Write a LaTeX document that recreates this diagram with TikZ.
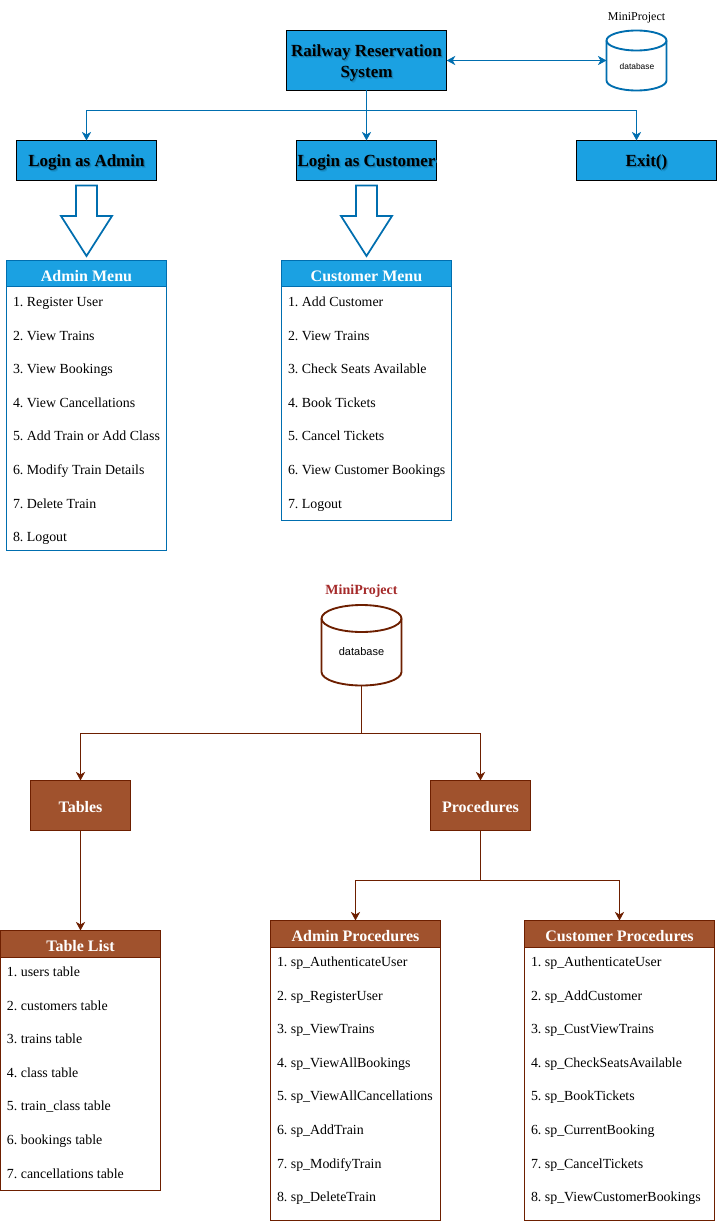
\documentclass[tikz,border=0pt]{standalone}
\usepackage{fontspec}
\setmainfont{Liberation Serif}
\newfontfamily\dbfont{Liberation Sans}
\usetikzlibrary{arrows.meta,shapes.geometric,calc}
\frenchspacing
\definecolor{bluefill}{HTML}{1BA1E2}
\definecolor{bluestroke}{HTML}{006EAF}
\definecolor{brownfill}{HTML}{A0522D}
\definecolor{brownstroke}{HTML}{6D1F00}
\definecolor{brownlabel}{HTML}{A52A2A}
\definecolor{shadowblueA}{HTML}{1690CC}
\definecolor{shadowblueB}{HTML}{1277A8}
\newcommand{\fs}[1]{\fontsize{#1}{#1}\selectfont}
% text with a soft shadow, baseline #1 below the centre of its node, taking no room
\newcommand{\shtxt}[2]{\makebox[0pt]{\raisebox{-#1}[0pt][0pt]{%
  \rlap{\raisebox{-1.3pt}{\kern1.3pt\textcolor{shadowblueA}{#2}}}%
  \rlap{\raisebox{-0.7pt}{\kern0.7pt\textcolor{shadowblueB}{#2}}}#2}}}
\newcommand{\lowered}[2]{\makebox[0pt]{\raisebox{-#1}[0pt][0pt]{#2}}}
\tikzset{
  x=0.75pt,y=-0.75pt,
  every node/.style={inner sep=0pt,outer sep=0pt},
  topbox/.style={draw=black,line width=0.75pt,fill=bluefill,font=\fs{12.75}\bfseries,text=black},
  titlebox/.style={draw=brownstroke,line width=0.75pt,fill=brownfill,text=white,font=\fs{12}\bfseries},
  bluepanel/.style={draw=bluestroke,line width=0.75pt,fill=white},
  brownpanel/.style={draw=brownstroke,line width=0.75pt,fill=white},
  blueline/.style={draw=bluestroke,line width=0.75pt},
  brownline/.style={draw=brownstroke,line width=0.75pt},
  bluearrow/.style={blueline,-{Stealth[length=6.5pt,width=7pt,inset=2pt]}},
  brownarrow/.style={brownline,-{Stealth[length=6.5pt,width=7pt,inset=2pt]}},
  itemtext/.style={anchor=base west,font=\fs{10.42},text=black},
  headtext/.style={anchor=base,font=\fs{12}\bfseries,text=white},
  blockarrow/.style={draw=bluestroke,line width=1.3pt,fill=white,line join=miter},
}
% #1 name, #2 left, #3 top, #4 right, #5 bottom, #6 header bottom, #7 panel style, #8 header fill, #9 title
\newcommand{\panel}[9]{%
  \node[#7,minimum width=#4*0.75pt-#2*0.75pt,minimum height=#5*0.75pt-#3*0.75pt,anchor=north west] (#1) at (#2,#3) {};
  \node[#7,fill=#8,minimum width=#4*0.75pt-#2*0.75pt,minimum height=#6*0.75pt-#3*0.75pt,anchor=north west] (#1head) at (#2,#3) {};
  \node[headtext] (#1title) at ($(#1head.south)+(0,-5.2)$) {#9};
}
% #1 prefix, #2 x of text, #3 list of y/text
\newcommand{\items}[3]{%
  \foreach \yy/\tt [count=\n] in {#3} {\node[itemtext] (#1\n) at (#2,\yy+5) {\n. \tt};}
}
\begin{document}
\begin{tikzpicture}
\useasboundingbox (0,0) rectangle (717,1223);

% Upper part
\node[topbox,minimum width=120pt,minimum height=45pt,anchor=north west] (rrs) at (286.5,30.5) {\shtxt{-2.9pt}{Railway Reservation}\shtxt{12.85pt}{System}};
\node[topbox,minimum width=105pt,minimum height=30pt,anchor=north west] (admin) at (16.5,140.5) {\shtxt{4.5pt}{Login as Admin}};
\node[topbox,minimum width=105pt,minimum height=30pt,anchor=north west] (cust) at (296.5,140.5) {\shtxt{4.5pt}{Login as Customer}};
\node[topbox,minimum width=105pt,minimum height=30pt,anchor=north west] (exit) at (576.5,140.5) {\shtxt{4.5pt}{Exit()}};

% Cylinder (upper)
\node[minimum width=45pt,minimum height=45pt,anchor=north west] (db1) at (606.5,30.5) {};
\draw[bluestroke,line width=1.4pt,fill=white] (606.5,40.5) arc[start angle=180,end angle=0,x radius=30,y radius=-10] -- (666.5,80.5) arc[start angle=0,end angle=-180,x radius=30,y radius=-10] -- cycle;
\draw[bluestroke,line width=1.4pt] (606.5,40.5) arc[start angle=180,end angle=360,x radius=30,y radius=-10];
\node[font=\dbfont\fs{6.3},text=black] (db1text) at (637,66.5) {database};
\node[font=\fs{9},text=black] (db1label) at (636.5,17.5) {MiniProject};

\coordinate (db1in) at (606.5,60.5);
\coordinate (rrsout) at (446.7,60.5);
\coordinate (busU) at (366.5,110.5);
\coordinate (exitin) at (636.5,140.5);
\draw[blueline,{Stealth[length=6.5pt,width=7pt,inset=2pt]}-{Stealth[length=6.5pt,width=7pt,inset=2pt]}] (rrsout) -- (db1in);
\draw[bluearrow] (rrs.south) -- (cust.north);
\draw[bluearrow] (busU) -| (admin.north);
\draw[bluearrow] (busU) -| (exitin);

% Block arrows
\coordinate (ba) at (86.5,185.5);
\coordinate (bc) at (366.5,185.5);
\foreach \c in {ba,bc}{
  \draw[blockarrow] ($(\c)+(-10.5,0)$) -- ($(\c)+(10.5,0)$) -- ($(\c)+(10.5,30.5)$) -- ($(\c)+(25.5,30.5)$) -- ($(\c)+(0,70.5)$) -- ($(\c)+(-25.5,30.5)$) -- ($(\c)+(-10.5,30.5)$) -- cycle;
}

% Menus
\panel{am}{6.5}{260.5}{166.5}{550.5}{286.7}{bluepanel}{bluefill}{Admin Menu}
\items{ai}{13}{301/Register User,335/View Trains,368.5/View Bookings,402/View Cancellations,435.5/Add Train or Add Class,469/Modify Train Details,503/Delete Train,536.5/Logout}
\panel{cm}{281.5}{260.5}{451.5}{520.5}{286.7}{bluepanel}{bluefill}{Customer Menu}
\items{ci}{288}{301/Add Customer,335/View Trains,368.5/Check Seats Available,402/Book Tickets,435.5/Cancel Tickets,469/View Customer Bookings,503/Logout}

% Lower part
\node[minimum width=60pt,minimum height=60pt,anchor=north west] (db2) at (321.5,605.5) {};
\draw[brownstroke,line width=1.4pt,fill=white] (321.5,618.5) arc[start angle=180,end angle=0,x radius=40,y radius=-13.5] -- (401.5,672) arc[start angle=0,end angle=-180,x radius=40,y radius=-13.5] -- cycle;
\draw[brownstroke,line width=1.4pt] (321.5,618.5) arc[start angle=180,end angle=360,x radius=40,y radius=-13.5];
\node[font=\dbfont\fs{8.25},text=black] (db2text) at (361.5,652) {database};
\node[font=\fs{10.5}\bfseries,text=brownlabel] (db2label) at (361.5,591.5) {MiniProject};

\node[titlebox,minimum width=75pt,minimum height=37.5pt,anchor=north west] (tables) at (30.5,780.5) {\lowered{5pt}{Tables}};
\node[titlebox,minimum width=75pt,minimum height=37.5pt,anchor=north west] (procs) at (430.5,780.5) {\lowered{5pt}{Procedures}};

\coordinate (busL) at (361.5,733.5);
\coordinate (busP) at (480.5,880.5);
\coordinate (apin) at (355.5,920.5);
\coordinate (cpin) at (619.5,920.5);
\draw[brownline] (db2.south) -- (busL);
\draw[brownarrow] (busL) -| (tables.north);
\draw[brownarrow] (busL) -| (procs.north);
\draw[brownline] (procs.south) -- (busP);
\draw[brownarrow] (busP) -| (apin);
\draw[brownarrow] (busP) -| (cpin);

\panel{tl}{0.5}{930.5}{160.5}{1190.5}{957}{brownpanel}{brownfill}{Table List}
\items{ti}{7}{971/users table,1005/customers table,1038.5/trains table,1072/class table,1105.5/train\_class table,1139/bookings table,1173/cancellations table}
\draw[brownarrow] (tables.south) -- (tl.north);

\panel{ap}{270.5}{920.5}{440.5}{1220.5}{947}{brownpanel}{brownfill}{Admin Procedures}
\items{api}{277}{961/sp\_AuthenticateUser,995/sp\_RegisterUser,1028.5/sp\_ViewTrains,1062/sp\_ViewAllBookings,1095.5/sp\_ViewAllCancellations,1129/sp\_AddTrain,1163/sp\_ModifyTrain,1196.5/sp\_DeleteTrain}
\panel{cp}{524.5}{920.5}{714.5}{1220.5}{947}{brownpanel}{brownfill}{Customer Procedures}
\items{cpi}{531}{961/sp\_AuthenticateUser,995/sp\_AddCustomer,1028.5/sp\_CustViewTrains,1062/sp\_CheckSeatsAvailable,1095.5/sp\_BookTickets,1129/sp\_CurrentBooking,1163/sp\_CancelTickets,1196.5/sp\_ViewCustomerBookings}
\end{tikzpicture}
\end{document}
